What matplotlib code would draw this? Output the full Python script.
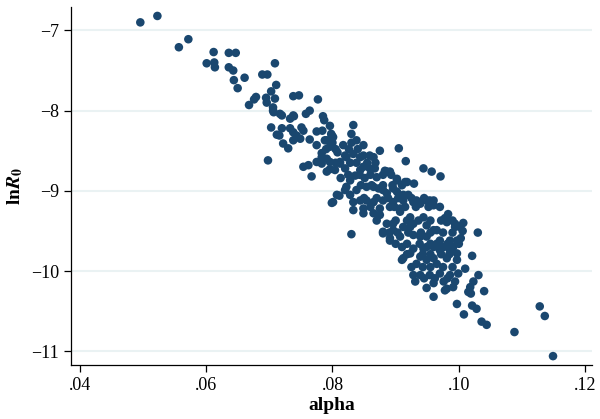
import matplotlib.pyplot as plt

plt.rcParams['font.family'] = ['Liberation Serif', 'DejaVu Serif']
plt.rcParams['mathtext.fontset'] = 'stix'

# alpha vs ln R0
alpha = [
    0.0496, 0.0523, 0.0557, 0.0572, 0.0612, 0.0636, 0.0647, 0.0601, 0.0613, 0.0614,
    0.0636, 0.0643, 0.0644, 0.0661, 0.0650, 0.0709, 0.0689, 0.0697, 0.0711, 0.0703,
    0.0679, 0.0676, 0.0668, 0.0695, 0.0696, 0.0709, 0.0738, 0.0747, 0.0706, 0.0707,
    0.0720, 0.0733, 0.0739, 0.0758, 0.0703, 0.0720, 0.0716, 0.0733, 0.0751, 0.0743,
    0.0777, 0.0706, 0.0717, 0.0738, 0.0764, 0.0785, 0.0787, 0.0738, 0.0754, 0.0796,
    0.0775, 0.0784, 0.0798, 0.0833, 0.0712, 0.0722, 0.0730, 0.0738, 0.0749, 0.0764,
    0.0775, 0.0788, 0.0801, 0.0830, 0.0838, 0.0849, 0.0796, 0.0817, 0.0808, 0.0783,
    0.0698, 0.0754, 0.0762, 0.0767, 0.0775, 0.0783, 0.0796, 0.0791, 0.0812, 0.0822,
    0.0833, 0.0844, 0.0859, 0.0875, 0.0905, 0.0916, 0.0944, 0.0813, 0.0822, 0.0811,
    0.0799, 0.0833, 0.0849, 0.0867, 0.0883, 0.0891, 0.0902, 0.0918, 0.0929, 0.0957,
    0.0971, 0.0807, 0.0801, 0.0849, 0.0830, 0.0938, 0.0949, 0.0960, 0.0983, 0.0978,
    0.0994, 0.1007, 0.1006, 0.1030, 0.1003, 0.0880, 0.0891, 0.0910, 0.1021, 0.1031,
    0.1023, 0.1018, 0.1040, 0.1015, 0.0949, 0.0960, 0.0928, 0.1019, 0.0997, 0.1021,
    0.1028, 0.1008, 0.1036, 0.1044, 0.1088, 0.1128, 0.1136, 0.1149, 0.0981, 0.0865,
    0.0849, 0.0820, 0.0812, 0.0791, 0.0796, 0.0783, 0.0799, 0.0791, 0.0828, 0.0844,
    0.0859, 0.0870, 0.0886, 0.0902, 0.0915, 0.0838, 0.0854, 0.0873, 0.0886, 0.0902,
    0.0920, 0.0933, 0.0833, 0.0865, 0.0880, 0.0896, 0.0912, 0.0849, 0.0875, 0.0907,
    0.0865, 0.0880, 0.0896, 0.0912, 0.0928, 0.0939, 0.0954, 0.0960, 0.0865, 0.0875,
    0.0854, 0.0891, 0.0907, 0.0923, 0.0944, 0.0886, 0.0880, 0.0896, 0.0912, 0.0928,
    0.0949, 0.0965, 0.0907, 0.0928, 0.0949, 0.0970, 0.0986, 0.0997, 0.0891, 0.0910,
    0.0928, 0.0949, 0.0970, 0.0986, 0.0912, 0.0939, 0.0960, 0.0923, 0.0933, 0.0949,
    0.0965, 0.0981, 0.0997, 0.1010, 0.0939, 0.0954, 0.0970, 0.0986, 0.0999, 0.0931,
    0.0960, 0.0976, 0.0994, 0.1002, 0.0994, 0.0981, 0.0960, 0.0939, 0.0923, 0.0991,
    0.0976, 0.0960, 0.0944, 0.0896, 0.0997, 0.0978, 0.0991, 0.0804, 0.0820, 0.0836,
    0.0851, 0.0828, 0.0844, 0.0820,
    # dense core
    0.0850, 0.0870, 0.0888, 0.0904, 0.0925, 0.0945,
    0.0860, 0.0898, 0.0915, 0.0932, 0.0952, 0.0970,
    0.0870, 0.0900, 0.0918, 0.0936, 0.0955, 0.0972, 0.0990,
    0.0890, 0.0903, 0.0920, 0.0940, 0.0955, 0.0975, 0.0990,
    0.0900, 0.0918, 0.0938, 0.0955, 0.0965, 0.0982, 0.1000,
    0.0918, 0.0943, 0.0955, 0.0972, 0.0985,
    0.0925, 0.0943, 0.0955, 0.0975, 0.0990,
    0.0945, 0.0962, 0.0982,
    0.0845, 0.0862, 0.0880, 0.0895, 0.0910,
    0.0825, 0.0843, 0.0860, 0.0880, 0.0893,
    0.0805, 0.0828, 0.0838, 0.0855, 0.0868,
    0.0790, 0.0805, 0.0826, 0.0840,
    0.0800, 0.0830,
]
ln_r0 = [
    -6.90, -6.82, -7.21, -7.11, -7.27, -7.28, -7.28, -7.41, -7.40, -7.46,
    -7.46, -7.50, -7.62, -7.59, -7.72, -7.41, -7.55, -7.55, -7.68, -7.76,
    -7.83, -7.86, -7.93, -7.84, -7.90, -7.85, -7.82, -7.81, -7.96, -8.02,
    -8.06, -8.10, -8.07, -8.04, -8.21, -8.22, -8.31, -8.22, -8.21, -8.31,
    -7.86, -8.00, -8.04, -8.06, -8.00, -8.07, -8.12, -8.27, -8.25, -8.19,
    -8.26, -8.25, -8.29, -8.18, -8.30, -8.41, -8.47, -8.37, -8.35, -8.36,
    -8.43, -8.37, -8.33, -8.29, -8.37, -8.43, -8.45, -8.43, -8.52, -8.53,
    -8.62, -8.70, -8.68, -8.82, -8.64, -8.66, -8.73, -8.60, -8.66, -8.58,
    -8.54, -8.58, -8.56, -8.50, -8.47, -8.63, -8.72, -8.84, -8.95, -9.06,
    -9.15, -9.24, -8.70, -8.72, -8.75, -8.76, -8.85, -8.89, -8.91, -8.76,
    -8.82, -9.05, -9.14, -9.28, -9.54, -9.15, -9.12, -9.12, -9.29, -9.34,
    -9.45, -9.40, -9.50, -9.52, -9.59, -9.51, -9.59, -9.86, -9.81, -10.05,
    -10.13, -10.20, -10.25, -10.26, -10.21, -10.32, -10.05, -10.28, -10.41, -10.43,
    -10.47, -10.54, -10.63, -10.67, -10.76, -10.44, -10.56, -11.06, -10.22, -8.58,
    -8.56, -8.56, -8.64, -8.76, -8.64, -8.58, -8.31, -8.37, -8.87, -8.74,
    -8.72, -8.83, -8.76, -8.87, -8.89, -8.99, -8.95, -8.97, -9.03, -9.01,
    -9.05, -9.12, -9.14, -9.14, -9.12, -9.14, -9.12, -9.22, -9.22, -9.22,
    -8.95, -8.99, -8.97, -9.05, -9.14, -9.16, -9.12, -9.18, -9.28, -9.30,
    -9.12, -9.20, -9.26, -9.33, -9.33, -9.41, -9.53, -9.49, -9.45, -9.41,
    -9.43, -9.49, -9.57, -9.55, -9.57, -9.62, -9.62, -9.62, -9.62, -9.70,
    -9.72, -9.70, -9.74, -9.74, -9.84, -9.82, -9.84, -9.78, -9.91, -9.86,
    -9.91, -9.84, -9.86, -9.97, -10.05, -10.05, -10.03, -10.05, -10.03, -10.13,
    -10.15, -10.13, -10.13, -9.45, -9.41, -9.39, -9.49, -9.57, -9.45, -9.70,
    -9.70, -9.70, -9.72, -9.41, -9.78, -10.24, -10.20, -8.74, -8.72, -8.81,
    -8.84, -9.05, -9.12, -8.99,
    # dense core
    -9.09, -9.09, -9.09, -9.09, -9.09, -9.09,
    -9.20, -9.20, -9.20, -9.20, -9.20, -9.20,
    -9.37, -9.37, -9.37, -9.37, -9.37, -9.37, -9.37,
    -9.52, -9.52, -9.52, -9.52, -9.52, -9.52, -9.52,
    -9.66, -9.66, -9.66, -9.66, -9.66, -9.66, -9.66,
    -9.79, -9.79, -9.79, -9.79, -9.79,
    -9.95, -9.95, -9.95, -9.95, -9.95,
    -10.09, -10.09, -10.09,
    -8.93, -8.93, -8.93, -8.93, -8.93,
    -8.80, -8.80, -8.80, -8.80, -8.80,
    -8.65, -8.65, -8.65, -8.65, -8.65,
    -8.48, -8.48, -8.48, -8.48,
    -8.40, -8.40,
]

xticks = [0.04, 0.06, 0.08, 0.10, 0.12]
xtick_labels = ['.04', '.06', '.08', '.10', '.12']
yticks = [-11, -10, -9, -8, -7]

fig = plt.figure(figsize=(6, 4.19), dpi=100)
ax = fig.add_axes([0.118, 0.129, 0.869, 0.854])

ax.scatter(alpha, ln_r0, s=38, color='#1a476f', edgecolors='none', zorder=3)

ax.set_xlim(0.0386, 0.1211)
ax.set_ylim(-11.17, -6.71)
ax.set_xticks(xticks)
ax.set_xticklabels(xtick_labels)
ax.set_yticks(yticks)
ax.set_yticklabels([str(v).replace('-', '\u2212') for v in yticks])

ax.grid(axis='y', color='#eaf2f3', linewidth=1.5, zorder=0)
ax.set_axisbelow(True)
for side in ['top', 'right']:
    ax.spines[side].set_visible(False)
for side in ['left', 'bottom']:
    ax.spines[side].set_color('black')
    ax.spines[side].set_linewidth(0.9)
ax.tick_params(direction='out', length=5, width=0.9, colors='black', labelsize=13)

ax.set_xlabel('alpha', fontsize=14, fontweight='bold', labelpad=2)
ax.set_ylabel(r'$\mathbf{ln}\mathbfit{R}_{\mathbf{0}}$', fontsize=14, labelpad=4)

fig.savefig('out.png', dpi=100)
